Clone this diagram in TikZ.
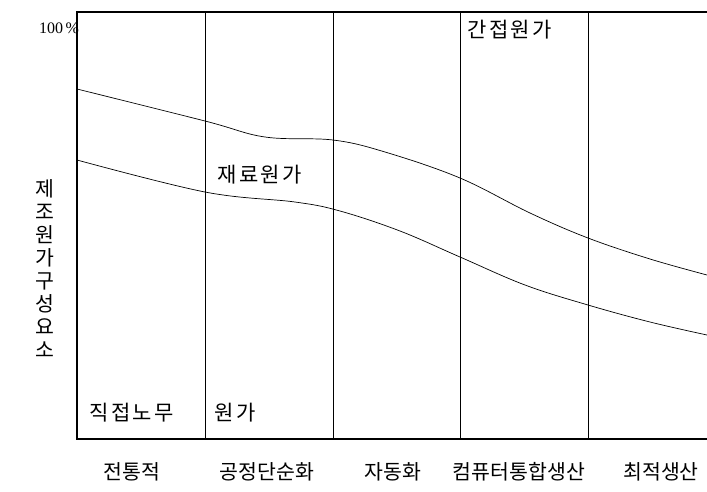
\documentclass[tikz,border=0pt]{standalone}
\usepackage{fontspec}
\newfontfamily\kr{Noto Sans CJK KR}
\newfontfamily\krwide[LetterSpace=12]{Noto Sans CJK KR}
\newfontfamily\serif{Liberation Serif}
\usetikzlibrary{positioning}

\begin{document}
\begin{tikzpicture}[x=1pt, y=-1pt,
    frame/.style = {line width = 1.6pt},
    divider/.style = {line width = 0.7pt},
    curve/.style = {line width = 0.7pt, smooth, tension = 0.6},
    inlabel/.style = {anchor = west, inner sep = 0pt, font = \fontsize{21}{24}\krwide},
    stage/.style = {inner sep = 0pt, font = \fontsize{20.5}{24}\kr}]
    \useasboundingbox (0,0) rectangle (707,491);

    % frame: left, top and bottom only
    \coordinate (tl) at (77,12);
    \coordinate (bl) at (77,439);
    \coordinate (tr) at (707,12);
    \coordinate (br) at (707,439);
    \draw [frame] (tr) -- (tl) -- (bl) -- (br);

    \foreach \x in {205, 333, 460, 588}
    {
        \draw [divider] (\x,12) -- (\x,439);
    }

    % cost curves
    \draw [curve] plot coordinates {(77,89) (205,121) (265,137) (333,140) (385,152) (460,178) (530,213) (588,238) (650,259) (707,275)};
    \draw [curve] plot coordinates {(77,160) (205,192) (295,202) (340,211) (400,231) (460,257) (525,285) (588,305) (650,322) (707,335)};

    \node (top) [font = \fontsize{16}{18}\serif] at (59,28) {100\,\%};

    \node (indirect) [inlabel] at (467,30) {간접원가};
    \node (material) [inlabel] at (217,175) {재료원가};
    \node (labour) [inlabel] at (89,413) {직접노무};
    \node (labourcost) [inlabel] at (214,413) {원가};

    \foreach \c [count = \i] in {제,조,원,가,구,성,요,소}
    {
        \node (ylab\i) [stage] at (45, 166 + \i*23) {\c};
    }

    \node (traditional) [stage] at (132,472) {전통적};
    \node (simplify) [stage] at (267,472) {공정단순화};
    \node (automation) [stage] at (393,472) {자동화};
    \node (cim) [stage] at (519,472) {컴퓨터통합생산};
    \node (optimal) [stage] at (661,472) {최적생산};
\end{tikzpicture}
\end{document}
